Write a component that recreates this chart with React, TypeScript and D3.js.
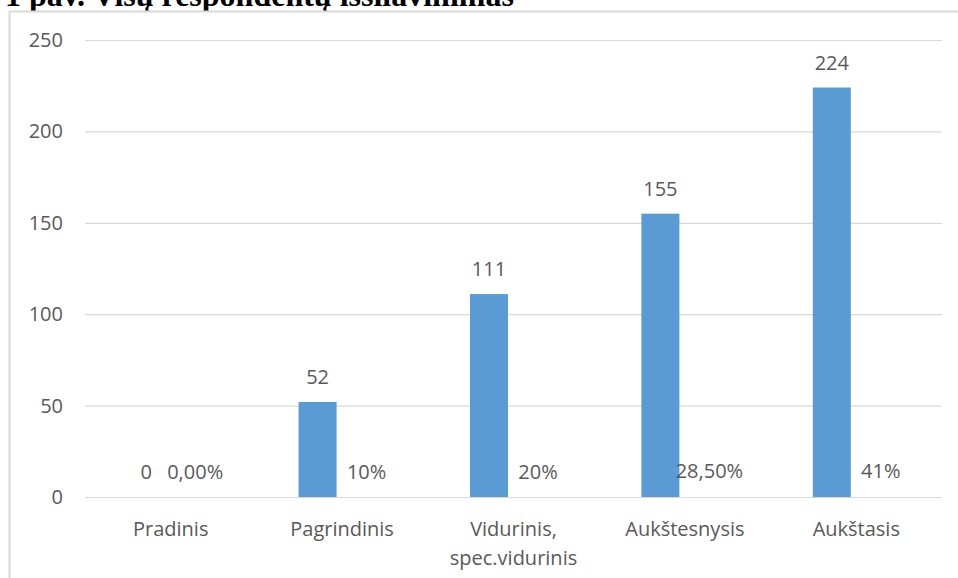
import { useMemo } from "react";
import * as d3 from "d3";

const categories = [
  "Pradinis",
  "Pagrindinis",
  "Vidurinis,\nspec.vidurinis",
  "Aukštesnysis",
  "Aukštasis",
];
const counts = [0, 52, 111, 155, 224];
const shares = [0, 0.1, 0.2, 0.285, 0.41];
const shareLabels = ["0,00%", "10%", "20%", "28,50%", "41%"];
const yTicks = [0, 50, 100, 150, 200, 250];

const WIDTH = 958;
const HEIGHT = 578;
const FONT = "'Open Sans', 'Noto Sans', sans-serif";
const TEXT = "#595959";
const GRID = "#d9d9d9";
const BAR = "#5b9bd5";

const App = () => {
  const x0 = useMemo(
    () => d3.scaleBand<string>().domain(categories).range([85, 942]),
    []
  );
  const x1 = useMemo(
    () =>
      d3
        .scaleBand<string>()
        .domain(["count", "share"])
        .range([0, x0.bandwidth()])
        .paddingInner(0.2245)
        .paddingOuter(0.861),
    [x0]
  );
  const y = useMemo(() => d3.scaleLinear().domain([0, 250]).range([497, 40]), []);

  return (
    <svg
      width={WIDTH}
      height={HEIGHT}
      style={{ position: "absolute", left: 0, top: 0, background: "#fff" }}
    >
      <text
        x={5}
        y={6}
        fontFamily="'Liberation Serif', 'Times New Roman', serif"
        fontWeight="bold"
        fontSize={32}
        fill="#000"
      >
        1 pav. Visų respondentų išsilavinimas
      </text>
      <rect x={9.5} y={11.5} width={1000} height={700} fill="#fff" stroke={GRID} strokeWidth={2} />

      {yTicks.map((t) => (
        <g key={t}>
          <line x1={85} x2={942} y1={y(t) + 0.5} y2={y(t) + 0.5} stroke={GRID} strokeWidth={1.2} />
          <text
            x={63}
            y={y(t)}
            dy="0.35em"
            textAnchor="end"
            fontFamily={FONT}
            fontSize={20}
            fill={TEXT}
          >
            {t}
          </text>
        </g>
      ))}

      {categories.map((c, i) => {
        const bx = x0(c)! + x1("count")!;
        const sx = x0(c)! + x1("share")!;
        const bw = x1.bandwidth();
        // share bars are fractions on the count axis: well under a pixel, so only their labels show
        const shareTop = Math.round(y(shares[i]));
        return (
          <g key={c}>
            <rect x={bx} y={y(counts[i])} width={bw} height={y(0) - y(counts[i])} fill={BAR} />
            <text
              x={bx + bw / 2}
              y={y(counts[i]) - 25}
              dy="0.35em"
              textAnchor="middle"
              fontFamily={FONT}
              fontSize={20}
              fill={TEXT}
            >
              {counts[i]}
            </text>
            <text
              x={sx + bw / 2}
              y={shareTop - 25}
              dy="0.35em"
              textAnchor="middle"
              fontFamily={FONT}
              fontSize={20}
              fill={TEXT}
            >
              {shareLabels[i]}
            </text>
            {c.split("\n").map((line, j) => (
              <text
                key={j}
                x={x0(c)! + x0.bandwidth() / 2}
                y={529 + j * 29}
                dy="0.35em"
                textAnchor="middle"
                fontFamily={FONT}
                fontSize={20}
                fill={TEXT}
              >
                {line}
              </text>
            ))}
          </g>
        );
      })}
    </svg>
  );
};

export default App;
